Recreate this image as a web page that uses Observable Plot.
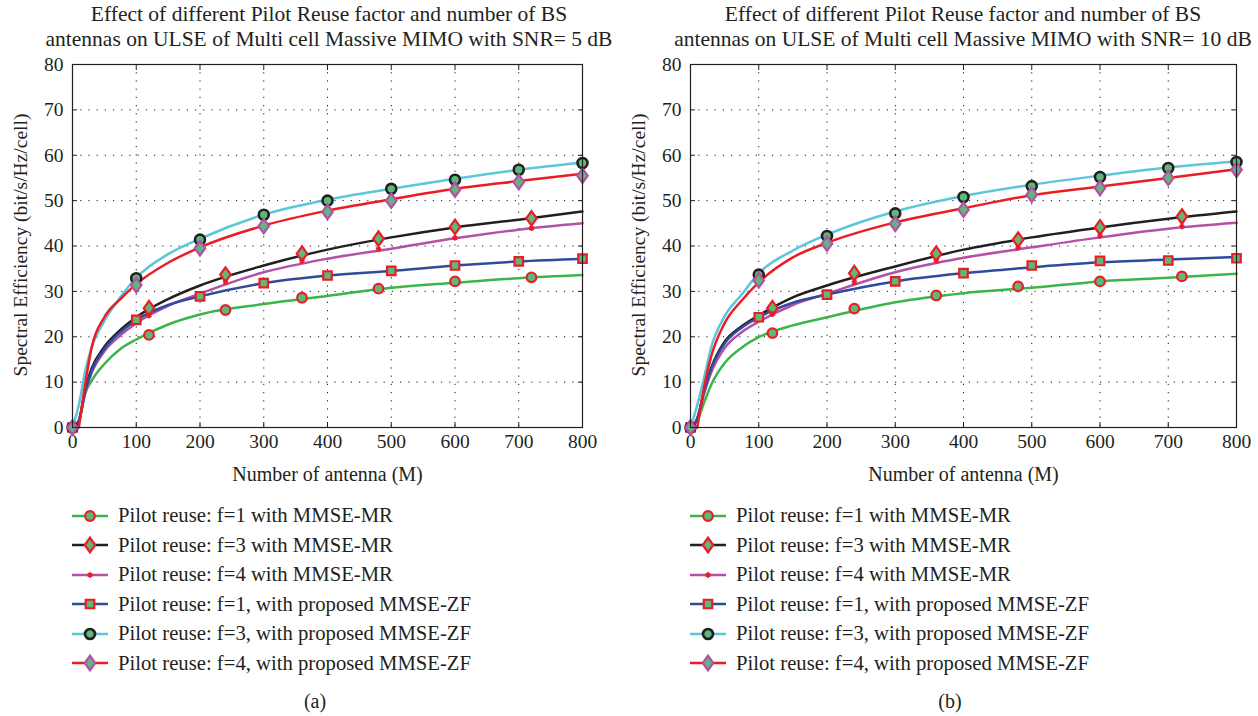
<!DOCTYPE html>
<html><head><meta charset="utf-8">
<script src="https://cdn.jsdelivr.net/npm/d3@7"></script>
<script src="https://cdn.jsdelivr.net/npm/@observablehq/plot@0.6"></script>
<style>
body{margin:0;background:#fff;width:1258px;height:716px;position:relative;overflow:hidden;font-family:"Liberation Serif","Times New Roman",serif;color:#231F20}
.title{position:absolute;text-align:center;font-size:21.5px;line-height:25px;white-space:nowrap;transform:translateX(-50%)}
.panel{position:absolute;top:50px}
.leg{position:absolute;font-size:20.7px;line-height:29.5px;white-space:nowrap}
.leg div{height:29.5px;display:flex;align-items:center}
.leg svg{margin-right:10px}
.cap{position:absolute;top:690px;font-size:20px;transform:translateX(-50%)}
.ylab{position:absolute;font-size:19.5px;white-space:nowrap;transform:translate(-50%,-50%) rotate(-90deg)}
</style></head>
<body>
<script>
// ---------- data ----------
const seriesLabels = [
  "Pilot reuse: f=1 with MMSE-MR",
  "Pilot reuse: f=3 with MMSE-MR",
  "Pilot reuse: f=4 with MMSE-MR",
  "Pilot reuse: f=1, with proposed MMSE-ZF",
  "Pilot reuse: f=3, with proposed MMSE-ZF",
  "Pilot reuse: f=4, with proposed MMSE-ZF"
];
const titlesA = ["Effect of different Pilot Reuse factor and number of BS", "antennas on ULSE of Multi cell Massive MIMO with SNR= 5 dB"];
const titlesB = ["Effect of different Pilot Reuse factor and number of BS", "antennas on ULSE of Multi cell Massive MIMO with SNR= 10 dB"];
const xLabel = "Number of antenna (M)";
const yLabel = "Spectral Efficiency (bit/s/Hz/cell)";
const xTicks = [0, 100, 200, 300, 400, 500, 600, 700, 800];
const yTicks = [0, 10, 20, 30, 40, 50, 60, 70, 80];

// x positions where curves were read
const lineX = [0, 10, 20, 30, 50, 75, 100, 150, 200, 300, 400, 500, 600, 700, 800];
// marker x positions
const mrX = [120, 240, 360, 480, 600, 720];
const zfX = [0, 100, 200, 300, 400, 500, 600, 700, 800];

// Panel (a) SNR = 5 dB : curves
const lineA_f1MR = [0, 1.5, 7.5, 10.3, 14, 17.3, 19.4, 22.7, 24.9, 27.2, 29.0, 30.8, 31.9, 32.9, 33.6];
const lineA_f3MR = [0, 1.5, 8.5, 13, 17.8, 21.5, 24.3, 28.3, 31.3, 35.7, 39.2, 41.9, 44.1, 45.8, 47.6];
const lineA_f4MR = [0, 1.5, 7.8, 12, 16.8, 20.3, 23.0, 26.8, 29.5, 34.2, 37.2, 39.4, 41.7, 43.6, 45.0];
const lineA_f1ZF = [0, 1.5, 8, 12.5, 17.3, 21, 23.7, 27, 28.9, 31.8, 33.5, 34.5, 35.7, 36.6, 37.2];
const lineA_f3ZF = [0, 5, 12.5, 17.6, 23.5, 28.7, 33, 38.2, 41.6, 46.9, 50.2, 52.6, 54.8, 56.8, 58.4];
const lineA_f4ZF = [null, 0, 9.6, 17.6, 24.3, 28.3, 31.6, 36.3, 39.7, 44.5, 47.8, 50.3, 52.6, 54.3, 55.9];
// Panel (a) markers
const markA_f1MR = [20.4, 25.9, 28.6, 30.6, 32.2, 33.1];
const markA_f3MR = [26.3, 33.7, 38.3, 41.6, 44.2, 46.1];
const markA_f4MR = [24.7, 32.0, 36.7, 39.3, 41.8, 43.9];
const markA_f1ZF = [0, 23.7, 28.9, 31.8, 33.5, 34.5, 35.7, 36.6, 37.2];
const markA_f3ZF = [0, 32.9, 41.4, 46.9, 50.0, 52.6, 54.6, 56.8, 58.3];
const markA_f4ZF = [0, 31.4, 39.5, 44.4, 47.5, 50.0, 52.4, 54.1, 55.5];

// Panel (b) SNR = 10 dB : curves
const lineB_f1MR = [0, 1.5, 5.5, 9.3, 14.2, 17.6, 19.9, 22.5, 24.3, 27.6, 29.6, 30.8, 32.2, 33.0, 33.9];
const lineB_f3MR = [0, 2, 8, 13, 18.9, 22.3, 24.7, 28.7, 31.3, 35.5, 39.2, 41.9, 44.1, 46.0, 47.6];
const lineB_f4MR = [0, 2, 7.5, 12, 17.5, 21, 23.3, 27, 29.5, 34.2, 37.4, 39.7, 41.9, 43.8, 45.1];
const lineB_f1ZF = [0, 2, 8, 12.8, 18.5, 22, 24.3, 27.5, 29.3, 32.2, 34.0, 35.3, 36.4, 37.0, 37.6];
const lineB_f3ZF = [0, 5, 11, 17.5, 24.5, 29.3, 34, 39, 42.5, 47.6, 51, 53.5, 55.5, 57.3, 58.6];
const lineB_f4ZF = [null, 0, 9, 15.5, 23, 28, 32, 37.5, 40.7, 45.2, 48.3, 51.2, 53.1, 55.0, 56.9];
// Panel (b) markers
const markB_f1MR = [20.8, 26.2, 29.1, 31.1, 32.2, 33.3];
const markB_f3MR = [26.3, 34.0, 38.3, 41.4, 44.1, 46.5];
const markB_f4MR = [25.0, 32.0, 36.7, 39.6, 42.2, 44.3];
const markB_f1ZF = [0, 24.3, 29.3, 32.2, 34.0, 35.7, 36.7, 36.8, 37.3];
const markB_f3ZF = [0, 33.7, 42.2, 47.2, 50.8, 53.2, 55.2, 57.2, 58.5];
const markB_f4ZF = [0, 32.4, 40.5, 44.9, 48.0, 51.3, 52.8, 55.0, 56.8];

// ---------- styles ----------
const C = {green:"#3BB54A", black:"#231F20", magenta:"#B450A6", blue:"#2F4B9C", cyan:"#5CC6DA", red:"#EC1C24", fill:"#5DB97A"};
const diamondSym = {draw(ctx, size){ const r = Math.sqrt(size/Math.PI); const h = r*1.45, w = r*1.05;
  ctx.moveTo(0,-h); ctx.lineTo(w,0); ctx.lineTo(0,h); ctx.lineTo(-w,0); ctx.closePath(); }};
const styles = [
  {line:C.green,   symbol:"circle",   d3sym:d3.symbolCircle,   r:4.8, stroke:C.red,     fill:C.fill, sw:2.2, xs:mrX},
  {line:C.black,   symbol:diamondSym, d3sym:diamondSym,        r:5,   stroke:C.red,     fill:C.fill, sw:2.2, xs:mrX},
  {line:C.magenta, symbol:"asterisk", d3sym:d3.symbolAsterisk, r:2.6, stroke:C.red,     fill:"none", sw:2,   xs:mrX},
  {line:C.blue,    symbol:"square",   d3sym:d3.symbolSquare,   r:4.8, stroke:C.red,     fill:C.fill, sw:2.2, xs:zfX},
  {line:C.cyan,    symbol:"circle",   d3sym:d3.symbolCircle,   r:5,   stroke:C.black,   fill:C.fill, sw:2.6, xs:zfX},
  {line:C.red,     symbol:diamondSym, d3sym:diamondSym,        r:5,   stroke:C.magenta, fill:C.fill, sw:2.2, xs:zfX}
];

function panel(lines, marks, plotW) {
  const width = 72 + plotW + 20;
  const lineMarks = lines.map((vals, i) => Plot.line(
    vals.map((v, j) => ({x: lineX[j], y: v})),
    {x:"x", y:"y", stroke: styles[i].line, strokeWidth: 2.5, curve:"monotone-x"}));
  const dotMarks = marks.map((vals, i) => Plot.dot(
    vals.map((v, j) => ({x: styles[i].xs[j], y: v})),
    {x:"x", y:"y", symbol: styles[i].symbol, r: styles[i].r, stroke: styles[i].stroke,
     fill: styles[i].fill, strokeWidth: styles[i].sw}));
  const gridStyle = {stroke:"#000", strokeOpacity:0.9, strokeDasharray:"1.2,7", strokeWidth:1};
  return Plot.plot({
    width, height: 440, marginLeft: 72, marginRight: 20, marginTop: 14, marginBottom: 63,
    style: {fontFamily: "'Liberation Serif', 'Times New Roman', serif", fontSize: "19.5px", color: "#231F20", background: "white", overflow: "visible"},
    x: {domain: [0, 800]},
    y: {domain: [0, 80]},
    marks: [
      Plot.gridX(xTicks, gridStyle),
      Plot.gridY(yTicks, gridStyle),
      Plot.axisX(xTicks, {anchor:"bottom", tickSize:-5, tickPadding:12, label:null}),
      Plot.axisX(xTicks, {anchor:"top", tickSize:-5, fill:"none", label:null}),
      Plot.axisY(yTicks, {anchor:"left", tickSize:-5, tickPadding:14, label:null}),
      Plot.axisY(yTicks, {anchor:"right", tickSize:-5, fill:"none", label:null}),
      ...lineMarks,
      ...dotMarks,
      Plot.frame({stroke:"#231F20", strokeWidth:1.2}),
      Plot.text([xLabel], {frameAnchor:"bottom", dy: 53, fontSize: 20})
    ]
  });
}

function legend(left, top) {
  const box = document.createElement("div");
  box.className = "leg";
  box.style.left = left + "px"; box.style.top = top + "px";
  seriesLabels.forEach((lab, i) => {
    const s = styles[i];
    const row = document.createElement("div");
    const svg = d3.create("svg").attr("width", 36).attr("height", 20);
    svg.append("line").attr("x1",0).attr("x2",36).attr("y1",10).attr("y2",10)
      .attr("stroke", s.line).attr("stroke-width", 2.5);
    svg.append("path").attr("transform","translate(18,10)")
      .attr("d", d3.symbol(s.d3sym, s.r*s.r*Math.PI)())
      .attr("fill", s.fill).attr("stroke", s.stroke).attr("stroke-width", s.sw);
    row.appendChild(svg.node());
    const t = document.createElement("span"); t.textContent = lab;
    row.appendChild(t);
    box.appendChild(row);
  });
  document.body.appendChild(box);
}

function title(lines, cx) {
  const d = document.createElement("div");
  d.className = "title"; d.style.left = cx + "px"; d.style.top = "2px";
  d.innerHTML = lines.map(l => `<div>${l}</div>`).join("");
  document.body.appendChild(d);
}
function caption(text, cx) {
  const d = document.createElement("div");
  d.className = "cap"; d.style.left = cx + "px"; d.textContent = text;
  document.body.appendChild(d);
}
function ylabel(cx, cy) {
  const d = document.createElement("div");
  d.className = "ylab"; d.style.left = cx + "px"; d.style.top = cy + "px"; d.textContent = yLabel;
  document.body.appendChild(d);
}

const pa = document.createElement("div"); pa.className = "panel"; pa.style.left = "0px";
pa.appendChild(panel([lineA_f1MR, lineA_f3MR, lineA_f4MR, lineA_f1ZF, lineA_f3ZF, lineA_f4ZF],
                     [markA_f1MR, markA_f3MR, markA_f4MR, markA_f1ZF, markA_f3ZF, markA_f4ZF], 510));
document.body.appendChild(pa);
const pb = document.createElement("div"); pb.className = "panel"; pb.style.left = "618px";
pb.appendChild(panel([lineB_f1MR, lineB_f3MR, lineB_f4MR, lineB_f1ZF, lineB_f3ZF, lineB_f4ZF],
                     [markB_f1MR, markB_f3MR, markB_f4MR, markB_f1ZF, markB_f3ZF, markB_f4ZF], 546));
document.body.appendChild(pb);

title(titlesA, 329);
title(titlesB, 963);
ylabel(21, 245);
ylabel(639, 245);
legend(72, 501);
legend(690, 501);
caption("(a)", 315);
caption("(b)", 950);
</script>
</body></html>
